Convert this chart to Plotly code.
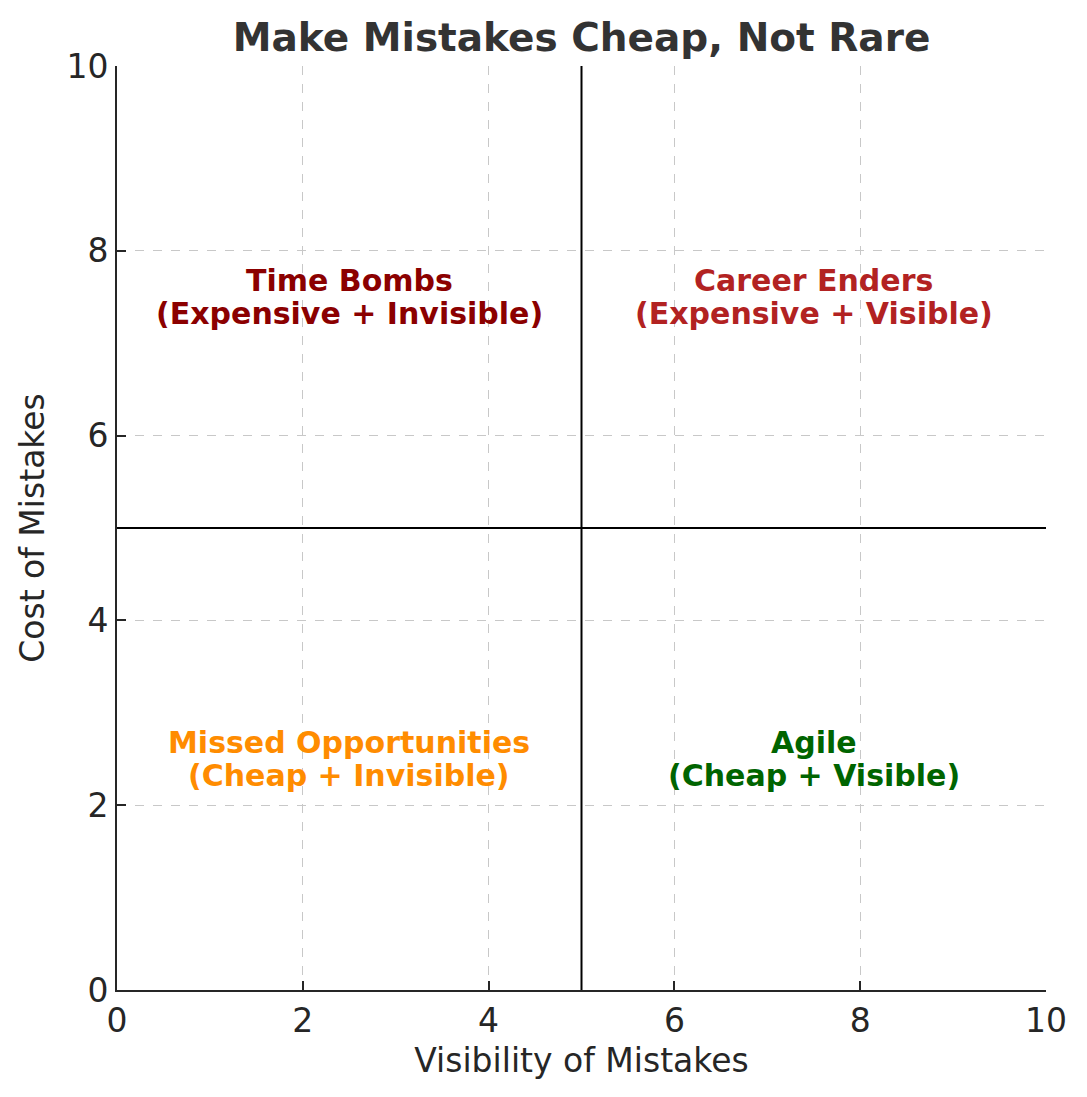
import plotly.graph_objects as go

# quadrant labels (two lines each) and where they sit in data coords
labels_top = ["Time Bombs", "Career Enders", "Missed Opportunities", "Agile"]
labels_bottom = ["(Expensive + Invisible)", "(Expensive + Visible)",
                 "(Cheap + Invisible)", "(Cheap + Visible)"]
label_x = [2.5, 7.5, 2.5, 7.5]
label_y = [7.5, 7.5, 2.5, 2.5]
label_colors = ["#8B0000", "#B22222", "#FF8C00", "#006400"]

# dividing lines
split_x = 5
split_y = 5
axis_range = [0, 10]
tick_vals = [0, 2, 4, 6, 8, 10]

font = "DejaVu Sans"

fig = go.Figure()

# quadrant dividers
fig.add_trace(go.Scatter(x=[split_x, split_x], y=axis_range, mode="lines",
                         line=dict(color="black", width=2), hoverinfo="skip"))
fig.add_trace(go.Scatter(x=axis_range, y=[split_y, split_y], mode="lines",
                         line=dict(color="black", width=2), hoverinfo="skip"))

for top, bottom, x, y, c in zip(labels_top, labels_bottom, label_x, label_y, label_colors):
    fig.add_annotation(x=x, y=y, text="<b>" + top + "</b>", showarrow=False,
                       yshift=17, font=dict(family=font, size=30, color=c))
    fig.add_annotation(x=x, y=y, text="<b>" + bottom + "</b>", showarrow=False,
                       yshift=-16, font=dict(family=font, size=30, color=c))

axis_style = dict(range=axis_range, tickvals=tick_vals, ticks="inside", ticklen=9,
                  tickwidth=2, tickcolor="#262626", showline=True, linewidth=2,
                  linecolor="#262626", showgrid=True, gridcolor="#c8c8c8",
                  griddash="dash", gridwidth=1, zeroline=False,
                  tickfont=dict(family=font, size=33, color="#262626"),
                  title_font=dict(family=font, size=33, color="#262626"),
                  fixedrange=True)

fig.update_xaxes(title_text="Visibility of Mistakes", title_standoff=10, **axis_style)
fig.update_yaxes(title_text="Cost of Mistakes", title_standoff=12, **axis_style)

# page puts the figure 8px in from the top-left corner
fig.update_layout(
    width=1079, height=1089,
    margin=dict(l=109, r=41, t=58, b=107),
    plot_bgcolor="white", paper_bgcolor="white",
    showlegend=False,
    title=dict(text="<b>Make Mistakes Cheap, Not Rare</b>", xref="paper", x=0.5,
               xanchor="center", yref="container", y=0.9734, yanchor="middle",
               font=dict(family=font, size=39, color="#333333")),
)

fig.write_html("out.html")
